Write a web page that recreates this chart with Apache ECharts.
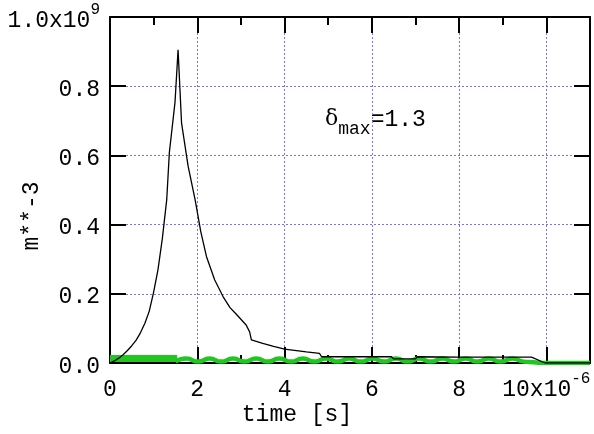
<!DOCTYPE html>
<html>
<head>
<meta charset="utf-8">
<script src="https://cdn.jsdelivr.net/npm/echarts@6/dist/echarts.min.js"></script>
<style>
  html, body { margin: 0; padding: 0; background: #fff; }
  #chart { width: 594px; height: 434px; }
</style>
</head>
<body>
<div id="chart"></div>
<script>
// time in units of 1e-6 s, density in units of 1e9 m**-3
const blackT = [0, 0.10, 0.20, 0.30, 0.40, 0.50, 0.60, 0.70, 0.80, 0.90, 1.00, 1.10, 1.20, 1.30, 1.36, 1.49, 1.56, 1.64, 1.79, 1.95, 2.08, 2.21, 2.40, 2.59, 2.75, 2.90, 3.12, 3.20, 3.24, 3.50, 3.75, 4.00, 4.50, 4.80, 4.85, 5.50, 6.45, 6.50, 7.00, 7.05, 8.00, 9.66, 9.97, 11.0];
const blackV = [0, 0.006, 0.014, 0.024, 0.036, 0.050, 0.066, 0.088, 0.115, 0.150, 0.205, 0.270, 0.360, 0.472, 0.608, 0.754, 0.905, 0.693, 0.569, 0.472, 0.380, 0.308, 0.240, 0.192, 0.160, 0.140, 0.11, 0.09, 0.067, 0.057, 0.048, 0.040, 0.032, 0.028, 0.018, 0.018, 0.018, 0.012, 0.012, 0.018, 0.017, 0.017, 0, 0];

const greenBandT = [0, 1.54];
const greenBandV = [0.013, 0.013];

const greenWaveT = [1.50, 1.75, 2.02, 2.28, 2.55, 2.82, 3.08, 3.35, 3.62, 3.88, 4.15, 4.42, 4.68, 4.95, 5.22, 5.48, 5.75, 6.02, 6.28, 6.55, 6.82, 7.08, 7.35, 7.62, 7.88, 8.15, 8.42, 8.68, 8.95, 9.22, 9.48, 9.70, 10.0, 11.0];
const greenWaveV = [0.004, 0.013, 0.004, 0.013, 0.004, 0.013, 0.004, 0.013, 0.004, 0.013, 0.004, 0.013, 0.004, 0.013, 0.004, 0.013, 0.004, 0.013, 0.004, 0.013, 0.004, 0.013, 0.004, 0.013, 0.004, 0.013, 0.004, 0.013, 0.004, 0.013, 0.004, 0.002, 0, 0];

const xTicks = [0, 2, 4, 6, 8, 10];
const yTicks = [0, 0.2, 0.4, 0.6, 0.8, 1.0];

const FONT = 'Liberation Mono';
const GRID = '#7474ff';

const zip = (a, b) => a.map((v, i) => [v, b[i]]);

const chart = echarts.init(document.getElementById('chart'));

const tickStyle = { color: '#000', width: 2 };

function xAxisOf(position, major) {
  return {
    type: 'value', min: 0, max: 11, interval: major ? 2 : 1, position,
    axisLine: { show: major, onZero: false, lineStyle: { color: '#000', width: 2 } },
    axisTick: { show: true, inside: true, length: major ? 16 : 8, lineStyle: tickStyle },
    axisLabel: {
      show: major && position === 'bottom',
      margin: 8,
      fontFamily: FONT, fontSize: 23, color: '#000',
      formatter: (v) => {
        if (!xTicks.includes(v)) return '';
        if (v === 10) return '{b|10x10}{s|-6}';
        return '{b|' + v + '}';
      },
      rich: {
        b: { fontFamily: FONT, fontSize: 23, lineHeight: 30, verticalAlign: 'bottom', color: '#000' },
        s: { fontFamily: FONT, fontSize: 16, lineHeight: 30, verticalAlign: 'top', color: '#000' }
      }
    },
    splitLine: { show: major && position === 'bottom', lineStyle: { color: GRID, width: 1, type: [2, 2] } }
  };
}

function yAxisOf(position) {
  const main = position === 'left';
  return {
    type: 'value', min: 0, max: 1, interval: 0.2, position,
    axisLine: { show: true, onZero: false, lineStyle: { color: '#000', width: 2 } },
    axisTick: { show: true, inside: true, length: 16, lineStyle: tickStyle },
    axisLabel: {
      show: main,
      margin: 10,
      fontFamily: FONT, fontSize: 23, color: '#000',
      formatter: (v) => {
        const r = Math.round(v * 10) / 10;
        if (!yTicks.includes(r)) return '';
        if (r === 1) return '{b|1.0x10}{s|9}';
        return '{b|' + r.toFixed(1) + '}';
      },
      rich: {
        b: { fontFamily: FONT, fontSize: 23, lineHeight: 30, verticalAlign: 'bottom', color: '#000' },
        s: { fontFamily: FONT, fontSize: 16, lineHeight: 30, verticalAlign: 'top', color: '#000' }
      }
    },
    splitLine: { show: main, lineStyle: { color: GRID, width: 1, type: [2, 2] } }
  };
}

chart.setOption({
  animation: false,
  backgroundColor: '#fff',
  grid: { left: 110, right: 4, top: 17, bottom: 71 },
  xAxis: [xAxisOf('bottom', true), xAxisOf('bottom', false), xAxisOf('top', true), xAxisOf('top', false)],
  yAxis: [yAxisOf('left'), yAxisOf('right')],
  series: [
    {
      type: 'line', data: zip(greenBandT, greenBandV), showSymbol: false,
      lineStyle: { color: '#22c622', width: 7 }, z: 2
    },
    {
      type: 'line', data: zip(greenWaveT, greenWaveV), showSymbol: false, smooth: 0.6,
      lineStyle: { color: '#22c622', width: 4.5 }, z: 2
    },
    {
      type: 'line', data: zip(blackT, blackV), showSymbol: false,
      lineStyle: { color: '#000', width: 1.3 }, z: 3
    }
  ],
  graphic: [
    {
      type: 'text', left: 'center', top: 403,
      style: { text: 'time [s]', font: '23px "Liberation Mono"', fill: '#000' }
    },
    {
      type: 'text', x: 32, y: 216, rotation: Math.PI / 2,
      style: { text: 'm**-3', font: '23px "Liberation Mono"', fill: '#000', align: 'center', verticalAlign: 'middle' }
    },
    {
      type: 'text', x: 325, y: 123,
      style: {
        text: '{d|δ}{m|max}{e|=1.3}',
        verticalAlign: 'middle',
        rich: {
          d: { font: '22px "DejaVu Serif"', lineHeight: 30, verticalAlign: 'top', fill: '#000' },
          m: { font: '18px "Liberation Mono"', lineHeight: 30, verticalAlign: 'bottom', fill: '#000' },
          e: { font: '23px "Liberation Mono"', lineHeight: 30, verticalAlign: 'top', fill: '#000' }
        }
      }
    }
  ]
});
</script>
</body>
</html>
